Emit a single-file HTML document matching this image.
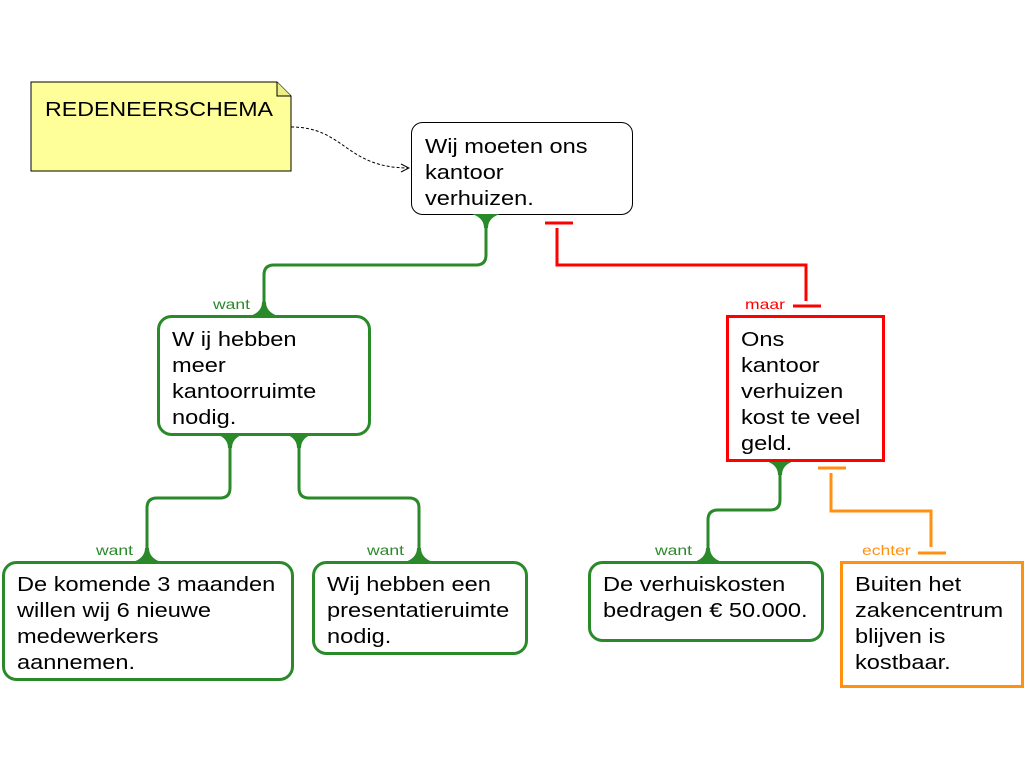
<!DOCTYPE html>
<html><head><meta charset="utf-8"><style>
html,body{margin:0;padding:0;background:#fff;}
svg{display:block}
text{font-family:"Liberation Sans",sans-serif;}
.t{font-size:20px;fill:#000}
.l{font-size:13.5px}
</style></head><body>
<svg width="1024" height="768" viewBox="0 0 1024 768" xmlns="http://www.w3.org/2000/svg">
<defs>
<marker id="ar" markerWidth="10" markerHeight="10" refX="9" refY="5" orient="auto" markerUnits="userSpaceOnUse">
<path d="M1,1 L9,5 L1,9" fill="none" stroke="#000" stroke-width="1"/></marker>
</defs>
<path d="M31,82 H277 L291,96 V171 H31 Z" fill="#ffff99" stroke="#000" stroke-width="1"/>
<path d="M277,82 V96 H291" fill="#eeee88" stroke="#000" stroke-width="1"/>
<g transform="translate(45,0) scale(1.16,1)"><text x="0" y="116" style="font-size:20px">REDENEERSCHEMA</text></g>
<path d="M291,127 C345,127 345,168 409,168" fill="none" stroke="#000" stroke-width="1" stroke-dasharray="3,2" marker-end="url(#ar)"/>

<rect x="411.5" y="122.5" width="221" height="92" rx="11" fill="#fff" stroke="#000" stroke-width="1"/>
<g transform="translate(425,0) scale(1.18,1)">
<text class="t" x="0" y="153">Wij moeten ons</text>
<text class="t" x="0" y="179">kantoor</text>
<text class="t" x="0" y="205">verhuizen.</text>
</g>

<g fill="none" stroke="#2a8a2a" stroke-width="3">
<path d="M486,214 V255 Q486,265 476,265 H274 Q264,265 264,275 V316"/>
<path d="M230,434 V488 Q230,498 220,498 H157 Q147,498 147,508 V562"/>
<path d="M299,434 V488 Q299,498 309,498 H409 Q419,498 419,508 V562"/>
<path d="M780,461 V500 Q780,510 770,510 H718 Q708,510 708,520 V562"/>
</g>
<g fill="#2a8a2a">
<path d="M472,214 H500 Q488,218 488,228 H484 Q484,218 472,214Z"/>
<path d="M250,316 H278 Q266,312 266,302 H262 Q262,312 250,316Z"/>
<path d="M216,434 H244 Q232,438 232,448 H228 Q228,438 216,434Z"/>
<path d="M285,434 H313 Q301,438 301,448 H297 Q297,438 285,434Z"/>
<path d="M133,562 H161 Q149,558 149,548 H145 Q145,558 133,562Z"/>
<path d="M405,562 H433 Q421,558 421,548 H417 Q417,558 405,562Z"/>
<path d="M766,461 H794 Q782,465 782,475 H778 Q778,465 766,461Z"/>
<path d="M694,562 H722 Q710,558 710,548 H706 Q706,558 694,562Z"/>
</g>
<g transform="translate(213,0) scale(1.3,1)"><text class="l" x="0" y="309" fill="#2a8a2a">want</text></g>
<g transform="translate(96,0) scale(1.3,1)"><text class="l" x="0" y="555" fill="#2a8a2a">want</text></g>
<g transform="translate(367,0) scale(1.3,1)"><text class="l" x="0" y="555" fill="#2a8a2a">want</text></g>
<g transform="translate(655,0) scale(1.3,1)"><text class="l" x="0" y="555" fill="#2a8a2a">want</text></g>

<g stroke="#ff0000" stroke-width="3" fill="none">
<path d="M545,223 H573"/>
<path d="M557,228 V265 H806 V301"/>
<path d="M793,306 H821"/>
</g>
<g transform="translate(745,0) scale(1.3,1)"><text class="l" x="0" y="309" fill="#ff0000">maar</text></g>

<g stroke="#ff9010" stroke-width="3" fill="none">
<path d="M818,468 H846"/>
<path d="M831,473 V511 H931 V547"/>
<path d="M918,553 H946"/>
</g>
<g transform="translate(862,0) scale(1.3,1)"><text class="l" x="0" y="555" fill="#ff9010">echter</text></g>

<rect x="158.5" y="316.5" width="211" height="118" rx="13" fill="#fff" stroke="#2a8a2a" stroke-width="3"/>
<g transform="translate(172,0) scale(1.18,1)">
<text class="t" x="0" y="346">W ij hebben</text>
<text class="t" x="0" y="372">meer</text>
<text class="t" x="0" y="398">kantoorruimte</text>
<text class="t" x="0" y="424">nodig.</text>
</g>

<rect x="727.5" y="316.5" width="156" height="144" fill="#fff" stroke="#ff0000" stroke-width="3"/>
<g transform="translate(741,0) scale(1.18,1)">
<text class="t" x="0" y="346">Ons</text>
<text class="t" x="0" y="372">kantoor</text>
<text class="t" x="0" y="398">verhuizen</text>
<text class="t" x="0" y="424">kost te veel</text>
<text class="t" x="0" y="450">geld.</text>
</g>

<rect x="3.5" y="562.5" width="289" height="117" rx="13" fill="#fff" stroke="#2a8a2a" stroke-width="3"/>
<g transform="translate(17,0) scale(1.18,1)">
<text class="t" x="0" y="591">De komende 3 maanden</text>
<text class="t" x="0" y="617">willen wij 6 nieuwe</text>
<text class="t" x="0" y="643">medewerkers</text>
<text class="t" x="0" y="669">aannemen.</text>
</g>

<rect x="313.5" y="562.5" width="213" height="91" rx="13" fill="#fff" stroke="#2a8a2a" stroke-width="3"/>
<g transform="translate(327,0) scale(1.18,1)">
<text class="t" x="0" y="591">Wij hebben een</text>
<text class="t" x="0" y="617">presentatieruimte</text>
<text class="t" x="0" y="643">nodig.</text>
</g>

<rect x="589.5" y="562.5" width="233" height="78" rx="13" fill="#fff" stroke="#2a8a2a" stroke-width="3"/>
<g transform="translate(603,0) scale(1.18,1)">
<text class="t" x="0" y="591">De verhuiskosten</text>
<text class="t" x="0" y="617">bedragen € 50.000.</text>
</g>

<rect x="841.5" y="562.5" width="181" height="124" fill="#fff" stroke="#ff9010" stroke-width="3"/>
<g transform="translate(855,0) scale(1.18,1)">
<text class="t" x="0" y="591">Buiten het</text>
<text class="t" x="0" y="617">zakencentrum</text>
<text class="t" x="0" y="643">blijven is</text>
<text class="t" x="0" y="669">kostbaar.</text>
</g>
</svg>
</body></html>
